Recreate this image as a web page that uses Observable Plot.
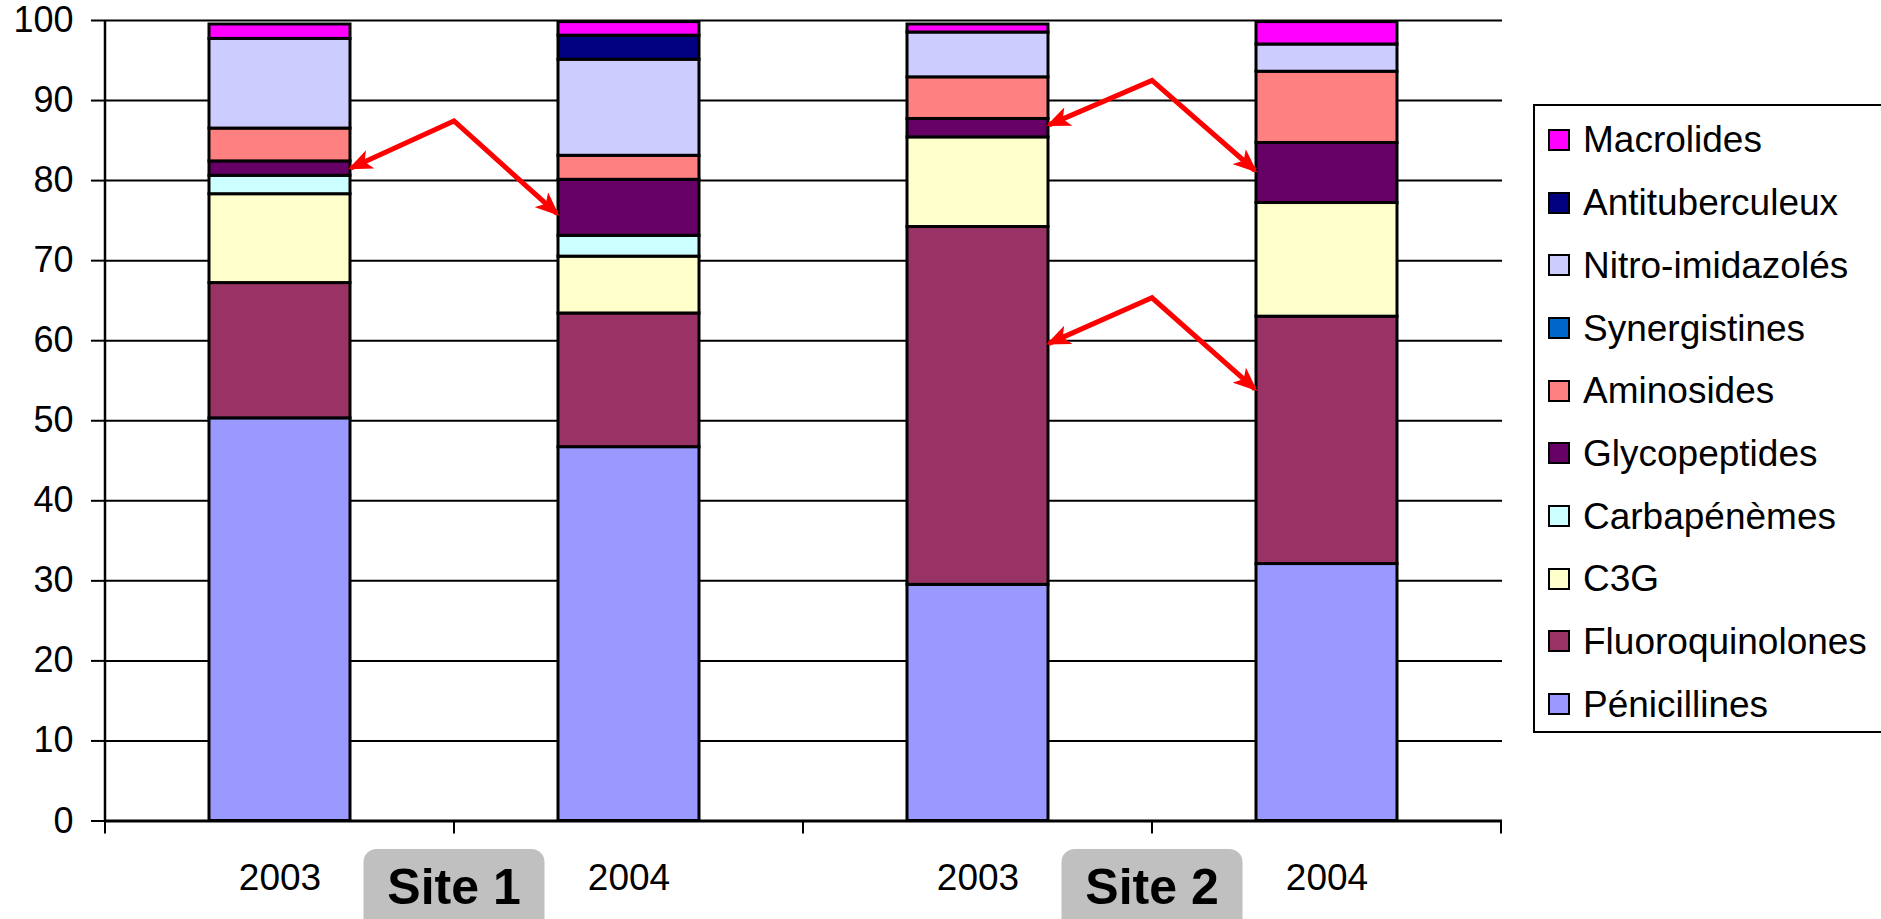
<!DOCTYPE html>
<html><head><meta charset="utf-8">
<script src="https://cdn.jsdelivr.net/npm/d3@7"></script>
<script src="https://cdn.jsdelivr.net/npm/@observablehq/plot@0.6"></script>
<style>
body{margin:0;background:#fff;font-family:"Liberation Sans",Arial,sans-serif;}
#wrap{position:relative;width:1881px;height:919px;overflow:hidden;background:#fff;}
#chart{position:absolute;left:0;top:0;}
#legend{position:absolute;left:1533px;top:104px;width:380px;height:629px;border:2px solid #000;box-sizing:border-box;padding-top:2.6px;}
.row{display:flex;align-items:center;height:62.7px;}
.sw{width:22px;height:22px;border:2px solid #000;box-sizing:border-box;margin-left:13px;margin-right:13px;flex:none;}
.lab{font-size:37px;color:#000;white-space:nowrap;line-height:1;}
</style></head>
<body><div id="wrap"><div id="chart"></div><div id="legend"></div></div>
<script>
// ---- data ----
const keys = ["Site 1 – 2003", "Site 1 – 2004", "Site 2 – 2003", "Site 2 – 2004"];
const years = ["2003", "2004", "2003", "2004"];
const sites = ["Site 1", "Site 2"];
const siteBars = [[0, 1], [2, 3]];
const classes = ["Pénicillines", "Fluoroquinolones", "C3G", "Carbapénèmes", "Glycopeptides", "Aminosides", "Synergistines", "Nitro-imidazolés", "Antituberculeux", "Macrolides"];
const colors = ["#9999FF", "#993366", "#FFFFCC", "#CCFFFF", "#660066", "#FF8080", "#0066CC", "#CCCCFF", "#000080", "#FF00FF"];
const penicillines     = [50.3, 46.7, 29.5, 32.1];
const fluoroquinolones = [16.9, 16.7, 44.7, 30.9];
const c3g              = [11.1,  7.1, 11.2, 14.2];
const carbapenemes     = [ 2.3,  2.6,  0.0,  0.0];
const glycopeptides    = [ 1.8,  7.0,  2.3,  7.5];
const aminosides       = [ 4.1,  3.0,  5.2,  8.9];
const synergistines    = [ 0.0,  0.0,  0.0,  0.0];
const nitroimidazoles  = [11.2, 12.0,  5.6,  3.4];
const antituberculeux  = [ 0.0,  3.0,  0.0,  0.0];
const macrolides       = [ 1.8,  1.7,  1.0,  2.8];
const seriesValues = [penicillines, fluoroquinolones, c3g, carbapenemes, glycopeptides, aminosides, synergistines, nitroimidazoles, antituberculeux, macrolides];
const yTicks = [0, 10, 20, 30, 40, 50, 60, 70, 80, 90, 100];
// annotation arrows (bar indices and y values)
const arrowFromBar = [0, 2, 2];
const arrowToBar   = [1, 3, 3];
const arrowStartY  = [81.5, 86.9, 59.6];
const arrowPeakY   = [87.4, 92.45, 65.3];
const arrowEndY    = [75.8, 81.2, 53.9];

const rows = [];
classes.forEach((c, ci) => keys.forEach((k, ki) => {
  const v = seriesValues[ci][ki];
  if (v > 0) rows.push({key: k, cls: c, value: v});
}));

const FONT = '"Liberation Sans", Arial, sans-serif';
const ML = 105, MR = 1881 - 1502;
const plot = Plot.plot({
  width: 1881, height: 919,
  marginLeft: ML, marginRight: MR, marginTop: 20, marginBottom: 98.5,
  style: {fontFamily: FONT, fontSize: "36px", color: "#000", background: "transparent", overflow: "visible"},
  x: {domain: keys, paddingInner: 0.595, paddingOuter: 0.2975, axis: null},
  y: {domain: [0, 100]},
  color: {domain: classes, range: colors},
  marks: [
    Plot.gridY(yTicks, {stroke: "#000", strokeOpacity: 1, strokeWidth: 2}),
    Plot.axisY(yTicks, {tickSize: 14, tickPadding: 18, fontSize: 36, strokeWidth: 2, label: null}),
    Plot.barY(rows, {x: "key", y: "value", fill: "cls", stroke: "#000", strokeWidth: 3, order: classes}),
    Plot.ruleY([0], {stroke: "#000", strokeWidth: 3}),
    Plot.text(keys, {x: d => d, y: () => 0, text: (d, i) => years[i], dy: 57, fontSize: 37, fill: "#000"})
  ]
});
document.getElementById("chart").appendChild(plot);

// extra decorations via the plot's scales
const sx = plot.scale("x"), sy = plot.scale("y");
const bw = sx.bandwidth, step = sx.step;
const x0 = sx.apply(keys[0]) - (step - bw) / 2;
const svg = d3.select(plot);
const g = svg.append("g");
// y axis line
g.append("line").attr("x1", ML).attr("x2", ML).attr("y1", sy.apply(0)).attr("y2", sy.apply(100))
  .attr("stroke", "#000").attr("stroke-width", 2.5);
// boundary ticks on x axis
for (let i = 0; i <= keys.length; i++) {
  const xx = x0 + i * step;
  g.append("line").attr("x1", xx).attr("x2", xx).attr("y1", sy.apply(0)).attr("y2", sy.apply(0) + 13)
    .attr("stroke", "#000").attr("stroke-width", 2);
}
// site labels
sites.forEach((s, i) => {
  const [a, b] = siteBars[i];
  const cx = (sx.apply(keys[a]) + bw + sx.apply(keys[b])) / 2;
  g.append("rect").attr("x", cx - 90.5).attr("y", 849).attr("width", 181).attr("height", 90)
    .attr("rx", 13).attr("fill", "#C0C0C0");
  g.append("text").attr("x", cx).attr("y", 904).attr("text-anchor", "middle")
    .attr("font-family", FONT).attr("font-weight", "bold").attr("font-size", 50).attr("fill", "#000").text(s);
});
// arrows
const defs = svg.append("defs");
defs.append("marker").attr("id", "ah").attr("viewBox", "0 0 24 20").attr("refX", 21).attr("refY", 10)
  .attr("markerWidth", 24).attr("markerHeight", 20).attr("markerUnits", "userSpaceOnUse")
  .attr("orient", "auto-start-reverse")
  .append("path").attr("d", "M0,0 L24,10 L0,20 L6,10 Z").attr("fill", "#FF0000");
arrowFromBar.forEach((f, i) => {
  const xs = sx.apply(keys[f]) + bw + 1;
  const xe = sx.apply(keys[arrowToBar[i]]) - 1;
  const xp = (xs + xe) / 2;
  g.append("path")
    .attr("d", `M${xs},${sy.apply(arrowStartY[i])} L${xp},${sy.apply(arrowPeakY[i])} L${xe},${sy.apply(arrowEndY[i])}`)
    .attr("fill", "none").attr("stroke", "#FF0000").attr("stroke-width", 5)
    .attr("marker-start", "url(#ah)").attr("marker-end", "url(#ah)");
});

// legend (top to bottom: reverse stacking order)
const leg = d3.select("#legend");
classes.map((c, i) => ({c, col: colors[i]})).reverse().forEach(d => {
  const r = leg.append("div").attr("class", "row");
  r.append("div").attr("class", "sw").style("background", d.col);
  r.append("div").attr("class", "lab").text(d.c);
});
</script>
</body></html>
